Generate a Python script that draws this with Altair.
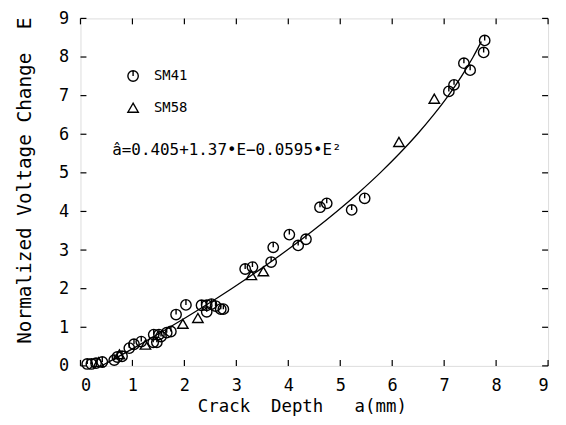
import altair as alt
import pandas as pd

# ---- data ----
sm41_a = [0.13, 0.21, 0.30, 0.42, 0.65, 0.71, 0.80, 0.94, 1.03, 1.17, 1.40, 1.47, 1.41, 1.51,
          1.66, 1.74, 1.55, 1.84, 2.03, 2.33, 2.43, 2.52, 2.43, 2.60, 2.70, 2.75, 3.17, 3.31,
          3.67, 3.71, 4.02, 4.19, 4.34, 4.61, 4.74, 5.22, 5.47, 7.09, 7.19, 7.38, 7.50, 7.76, 7.78]
sm41_e = [0.05, 0.05, 0.07, 0.10, 0.15, 0.23, 0.25, 0.46, 0.56, 0.63, 0.61, 0.61, 0.81, 0.81,
          0.86, 0.89, 0.76, 1.33, 1.58, 1.57, 1.57, 1.60, 1.40, 1.55, 1.47, 1.47, 2.51, 2.56,
          2.69, 3.07, 3.40, 3.12, 3.28, 4.11, 4.21, 4.04, 4.34, 7.11, 7.28, 7.84, 7.66, 8.12, 8.43]

sm58_a = [0.35, 0.75, 1.25, 1.97, 2.26, 3.29, 3.52, 6.13, 6.81]
sm58_e = [0.10, 0.30, 0.55, 1.09, 1.24, 2.35, 2.45, 5.80, 6.92]

# fitted curve  a = 0.405 + 1.37 E - 0.0595 E^2
fit_e = [0.0, 0.5, 1.0, 1.5, 2.0, 2.5, 3.0, 3.5, 4.0, 4.5, 5.0, 5.5, 6.0, 6.5, 7.0, 7.5, 8.0, 8.4]
fit_a = [0.405, 1.075, 1.716, 2.326, 2.907, 3.458, 3.980, 4.471, 4.933, 5.365, 5.768, 6.140,
         6.483, 6.796, 7.080, 7.333, 7.557, 7.715]

ticks = [0, 1, 2, 3, 4, 5, 6, 7, 8, 9]
series_names = ["SM41", "SM58"]
equation = ["â=0.405+1.37•E−0.0595•E²"]
NB = "\u00a0"
x_title = "Crack" + NB * 2 + "Depth" + NB * 3 + "a(mm)"
y_title = "Normalized" + NB + "Voltage" + NB + "Change" + NB * 2 + "E"

pts = pd.DataFrame({
    "a": sm41_a + sm58_a,
    "E": sm41_e + sm58_e,
    "series": [series_names[0]] * len(sm41_a) + [series_names[1]] * len(sm58_a),
})
fit = pd.DataFrame({"a": fit_a, "E": fit_e})
tk = pd.DataFrame({"a": ticks, "E": ticks})
eq = pd.DataFrame({"t": equation})

W, H = 471, 350
FONT = "DejaVu Sans Mono"
xs = alt.Scale(domain=[0, 9], nice=False)
ys = alt.Scale(domain=[0, 9], nice=False)

circle_path = "M0,-1L0,0M1,0A1,1,0,1,1,-1,0A1,1,0,1,1,1,0Z"

x_axis = alt.Axis(values=ticks, format="d", tickSize=0, domain=False, grid=False,
                  labelFont=FONT, labelFontSize=17, labelPadding=12, labelColor="black",
                  title=x_title, titleFont=FONT, titleFontSize=17.5,
                  titleFontWeight="normal", titleColor="black",
                  titleX=223, titleY=41, titleAlign="center", titleBaseline="middle")
y_axis = alt.Axis(values=ticks, format="d", tickSize=0, domain=False, grid=False,
                  labelFont=FONT, labelFontSize=17, labelPadding=12, labelColor="black",
                  title=y_title, titleFont=FONT, titleFontSize=19.5,
                  titleFontWeight="normal", titleColor="black", titleAngle=270,
                  titleX=-56, titleY=163, titleAlign="center", titleBaseline="middle")

X = alt.X("a:Q", scale=xs, axis=x_axis)
Y = alt.Y("E:Q", scale=ys, axis=y_axis)

points = alt.Chart(pts).mark_point(filled=False, color="black", strokeWidth=1.4,
                                   opacity=1, size=110).encode(
    x=X, y=Y,
    shape=alt.Shape("series:N",
                    scale=alt.Scale(domain=series_names, range=[circle_path, "triangle-up"]),
                    legend=alt.Legend(orient="none", legendX=46, legendY=51, title=None,
                                      padding=0, rowPadding=15, labelOffset=14,
                                      symbolSize=110, symbolStrokeWidth=1.4,
                                      symbolStrokeColor="black", symbolFillColor="white",
                                      labelFont=FONT, labelFontSize=14, labelColor="black")),
)

curve = alt.Chart(fit).mark_line(color="black", strokeWidth=1.3, interpolate="monotone").encode(
    x=X, y=Y)

eq_text = alt.Chart(eq).mark_text(align="left", baseline="middle", font=FONT, fontSize=16,
                                  color="black").encode(
    text="t:N", x=alt.value(32), y=alt.value(133))

tick_len = 6
bottom = alt.Chart(tk).mark_rule(color="black", strokeWidth=1.2).encode(
    x=X, y=alt.value(H), y2=alt.value(H - tick_len))
top = alt.Chart(tk).mark_rule(color="black", strokeWidth=1.2).encode(
    x=X, y=alt.value(0), y2=alt.value(tick_len))
left = alt.Chart(tk).mark_rule(color="black", strokeWidth=1.2).encode(
    y=Y, x=alt.value(0), x2=alt.value(tick_len))
right = alt.Chart(tk).mark_rule(color="black", strokeWidth=1.2).encode(
    y=Y, x=alt.value(W), x2=alt.value(W - tick_len))

chart = alt.layer(points, curve, eq_text, bottom, top, left, right).properties(
    width=W, height=H,
    autosize=alt.AutoSizeParams(type="none"),
    padding={"left": 73, "top": 9, "right": 10, "bottom": 50},
).configure_view(stroke="black", strokeWidth=1.5).configure(background="white")

chart.save("out.html", embed_options={"renderer": "svg", "actions": False})
